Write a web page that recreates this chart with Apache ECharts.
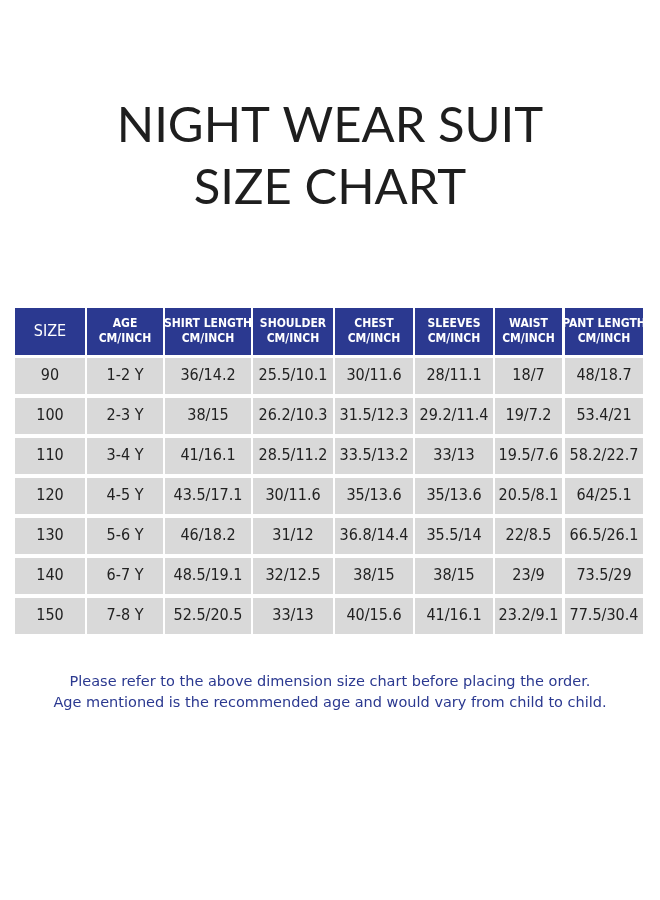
<!DOCTYPE html>
<html><head><meta charset="utf-8">
<script src="https://cdn.jsdelivr.net/npm/echarts@6/dist/echarts.min.js"></script>
<style>html,body{margin:0;padding:0;background:#fff}#c{width:660px;height:900px}</style>
</head><body><div id="c"></div>
<script>
const headers = ["SIZE","AGE\nCM/INCH","SHIRT LENGTH\nCM/INCH","SHOULDER\nCM/INCH","CHEST\nCM/INCH","SLEEVES\nCM/INCH","WAIST\nCM/INCH","PANT LENGTH\nCM/INCH"];
const sizes = ["90","100","110","120","130","140","150"];
const ages = ["1-2 Y","2-3 Y","3-4 Y","4-5 Y","5-6 Y","6-7 Y","7-8 Y"];
const shirtLength = ["36/14.2","38/15","41/16.1","43.5/17.1","46/18.2","48.5/19.1","52.5/20.5"];
const shoulder = ["25.5/10.1","26.2/10.3","28.5/11.2","30/11.6","31/12","32/12.5","33/13"];
const chest = ["30/11.6","31.5/12.3","33.5/13.2","35/13.6","36.8/14.4","38/15","40/15.6"];
const sleeves = ["28/11.1","29.2/11.4","33/13","35/13.6","35.5/14","38/15","41/16.1"];
const waist = ["18/7","19/7.2","19.5/7.6","20.5/8.1","22/8.5","23/9","23.2/9.1"];
const pantLength = ["48/18.7","53.4/21","58.2/22.7","64/25.1","66.5/26.1","73.5/29","77.5/30.4"];

// layout (pixel space of the value axes)
const colEdges = [[15,85],[87,163],[165,251],[253,333],[335,413],[415,493],[495,562],[565,643]];
const headerBand = [308,355];
const rowTop = 358, rowPitch = 40, rowH = 36;

const columns = [sizes, ages, shirtLength, shoulder, chest, sleeves, waist, pantLength];
const data = [];
headers.forEach((h,c)=>data.push([c,-1,h]));
columns.forEach((col,c)=>col.forEach((v,r)=>data.push([c,r,v])));

const chart = echarts.init(document.getElementById('c'));
chart.setOption({
  animation:false,
  title:[
    {text:'NIGHT WEAR SUIT\nSIZE CHART',left:'center',top:90,
     textStyle:{fontFamily:'Lato',fontWeight:'normal',fontSize:49,lineHeight:62,color:'#1e1e1e'}},
    {text:'Please refer to the above dimension size chart before placing the order.\nAge mentioned is the recommended age and would vary from child to child.',
     left:'center',top:667,
     textStyle:{fontFamily:'DejaVu Sans',fontWeight:'normal',fontSize:14.5,lineHeight:21,color:'#2b3990',align:'center'}}
  ],
  grid:{left:0,right:0,top:0,bottom:0},
  xAxis:{type:'value',min:0,max:660,show:false},
  yAxis:{type:'value',min:0,max:900,inverse:true,show:false},
  series:[{
    type:'custom',
    data:data,
    renderItem:function(params,api){
      const c=api.value(0), r=api.value(1), txt=data[params.dataIndex][2];
      const e=colEdges[c];
      const isH=r<0;
      const y0=isH?headerBand[0]:rowTop+r*rowPitch;
      const y1=isH?headerBand[1]:y0+rowH;
      const p0=api.coord([e[0],y0]), p1=api.coord([e[1],y1]);
      return {type:'rect',
        shape:{x:p0[0],y:p0[1],width:p1[0]-p0[0],height:p1[1]-p0[1]},
        style:{fill:isH?'#2b3990':'#d9d9d9'},
        textContent:{style:{text:txt,fill:isH?'#fff':'#222',
          fontFamily:'DejaVu Sans Condensed',
          fontSize:isH?(c===0?16:12):16,fontWeight:isH&&c>0?'bold':'normal',lineHeight:isH?15:18,align:'center'}},
        textConfig:{position:'inside'}
      };
    }
  }]
});
</script></body></html>
